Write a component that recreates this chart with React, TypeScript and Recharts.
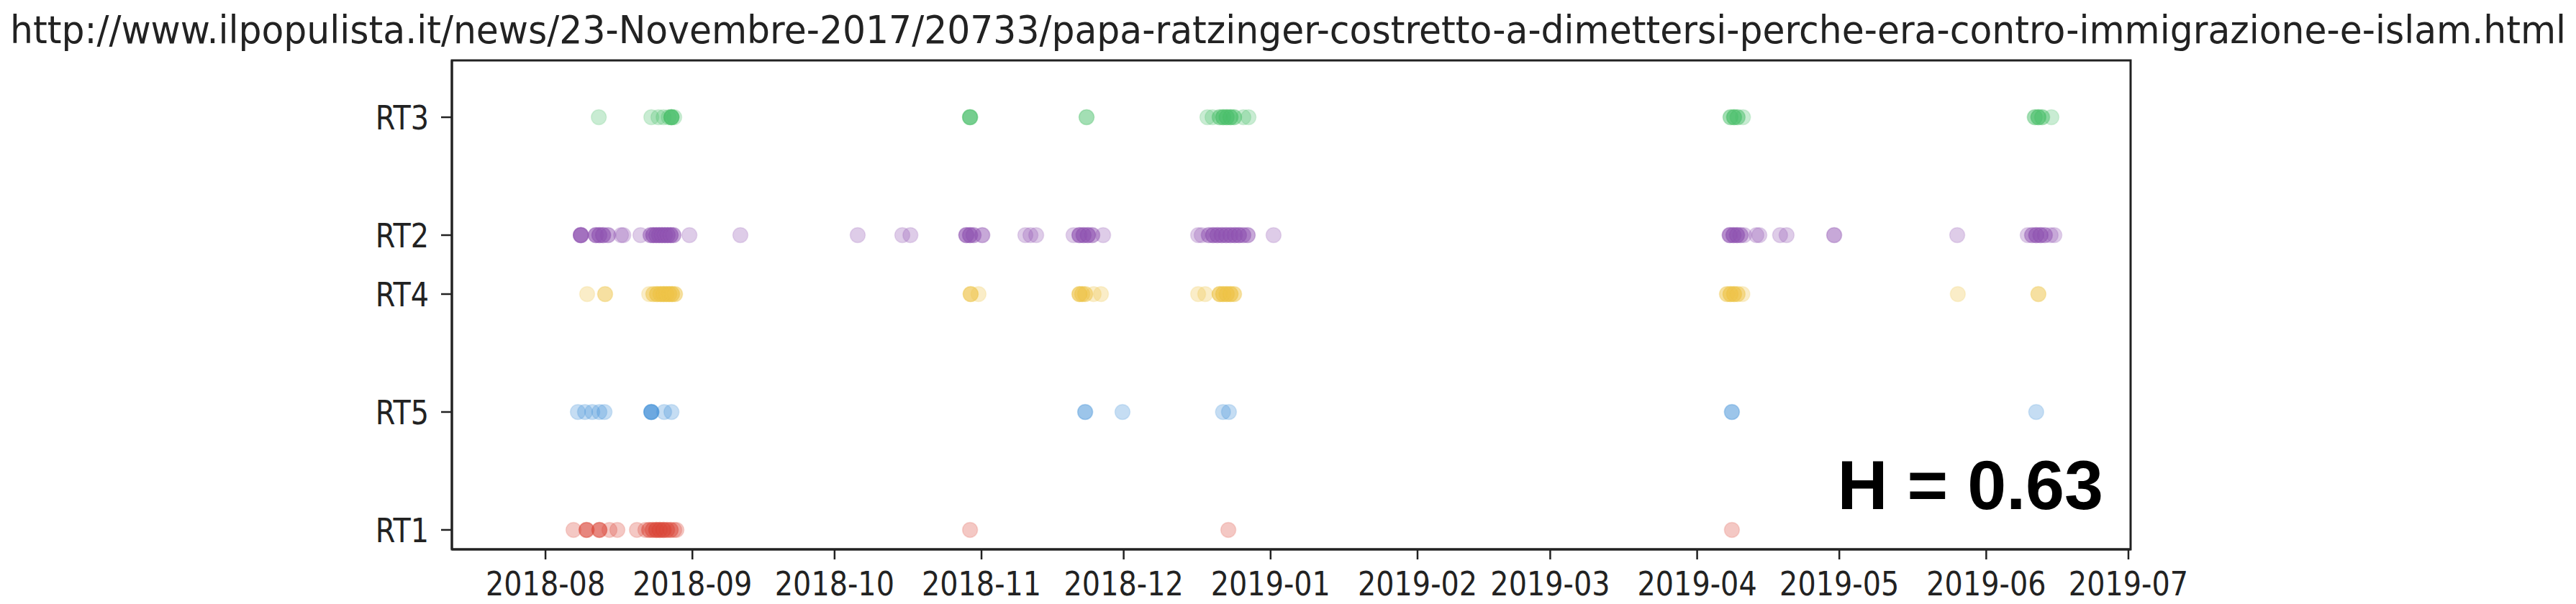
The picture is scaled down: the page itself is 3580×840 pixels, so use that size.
import React from "react";
import { ScatterChart, Scatter, XAxis, YAxis, ReferenceArea } from "recharts";

const title =
  "http://www.ilpopulista.it/news/23-Novembre-2017/20733/papa-ratzinger-costretto-a-dimettersi-perche-era-contro-immigrazione-e-islam.html";
const scoreLabel = "H = 0.63";

// rows, bottom to top
const rowNames = ["RT1", "RT5", "RT4", "RT2", "RT3"];
const rowLevels = [0, 1, 2, 2.5, 3.5];
const rowColors = ["#dc4a3a", "#3f8fd6", "#eec548", "#9255b2", "#4cc06c"];

const monthTicks = [
  "2018-08-01T00", "2018-09-01T00", "2018-10-01T00", "2018-11-01T00",
  "2018-12-01T00", "2019-01-01T00", "2019-02-01T00", "2019-03-01T00",
  "2019-04-01T00", "2019-05-01T00", "2019-06-01T00", "2019-07-01T00",
];
const xStart = "2018-07-12T06";
const xEnd = "2019-07-01T11";
const yRange = [-0.165, 3.982];

// [time, number of retweets seen at that time]
const rt1: [string, number][] = [
  ["2018-08-06T22", 1], ["2018-08-09T16", 3], ["2018-08-12T09", 3], ["2018-08-14T12", 1],
  ["2018-08-16T04", 1], ["2018-08-20T07", 1], ["2018-08-22T02", 1], ["2018-08-22T21", 2],
  ["2018-08-23T15", 2], ["2018-08-24T09", 3], ["2018-08-25T03", 3], ["2018-08-25T22", 3],
  ["2018-08-26T16", 2], ["2018-08-27T10", 2], ["2018-08-28T04", 1], ["2018-08-28T15", 1],
  ["2018-10-29T14", 1], ["2018-12-23T02", 1], ["2019-04-08T08", 1],
];

const rt5: [string, number][] = [
  ["2018-08-07T20", 1], ["2018-08-09T08", 1], ["2018-08-10T21", 1], ["2018-08-12T09", 1],
  ["2018-08-13T11", 1], ["2018-08-23T08", 4], ["2018-08-26T01", 1], ["2018-08-27T14", 1],
  ["2018-11-22T21", 2], ["2018-11-30T18", 1], ["2018-12-21T23", 1], ["2018-12-23T05", 1],
  ["2019-04-08T08", 2], ["2019-06-11T13", 1],
];

const rt4: [string, number][] = [
  ["2018-08-09T19", 1], ["2018-08-13T14", 2], ["2018-08-22T21", 1], ["2018-08-23T18", 2],
  ["2018-08-24T13", 3], ["2018-08-25T07", 3], ["2018-08-25T22", 3], ["2018-08-26T12", 3],
  ["2018-08-27T03", 3], ["2018-08-27T17", 3], ["2018-08-28T08", 2], ["2018-10-29T17", 3],
  ["2018-10-31T09", 1], ["2018-11-21T16", 3], ["2018-11-22T06", 2], ["2018-11-22T21", 2],
  ["2018-11-24T16", 1], ["2018-11-26T05", 1], ["2018-12-16T17", 1], ["2018-12-18T05", 1],
  ["2018-12-21T06", 3], ["2018-12-22T00", 3], ["2018-12-22T18", 3], ["2018-12-23T13", 3],
  ["2018-12-24T07", 2], ["2019-04-07T07", 2], ["2019-04-08T01", 3], ["2019-04-08T19", 3],
  ["2019-04-09T13", 2], ["2019-04-10T13", 1], ["2019-05-26T00", 1], ["2019-06-12T00", 2],
];

const rt2: [string, number][] = [
  ["2018-08-08T11", 5], ["2018-08-11T15", 3], ["2018-08-12T09", 3], ["2018-08-13T04", 3],
  ["2018-08-14T05", 2], ["2018-08-16T23", 1], ["2018-08-17T10", 1], ["2018-08-21T01", 1],
  ["2018-08-23T04", 2], ["2018-08-23T18", 3], ["2018-08-24T09", 3], ["2018-08-25T00", 3],
  ["2018-08-25T14", 3], ["2018-08-26T05", 3], ["2018-08-26T19", 3], ["2018-08-27T10", 3],
  ["2018-08-28T00", 2], ["2018-08-31T09", 1], ["2018-09-11T03", 1], ["2018-10-05T21", 1],
  ["2018-10-15T07", 1], ["2018-10-17T00", 1], ["2018-10-28T19", 3], ["2018-10-29T14", 3],
  ["2018-10-30T08", 2], ["2018-11-01T04", 2], ["2018-11-10T06", 1], ["2018-11-11T08", 1],
  ["2018-11-12T13", 1], ["2018-11-20T10", 1], ["2018-11-21T16", 3], ["2018-11-22T13", 3],
  ["2018-11-23T11", 3], ["2018-11-24T09", 2], ["2018-11-26T16", 1], ["2018-12-16T17", 1],
  ["2018-12-17T11", 1], ["2018-12-18T23", 2], ["2018-12-19T21", 3], ["2018-12-20T19", 3],
  ["2018-12-21T17", 3], ["2018-12-22T15", 3], ["2018-12-23T13", 3], ["2018-12-24T11", 3],
  ["2018-12-25T08", 3], ["2018-12-26T06", 2], ["2018-12-27T04", 2], ["2019-01-01T15", 1],
  ["2019-04-07T21", 3], ["2019-04-08T16", 3], ["2019-04-09T10", 3], ["2019-04-10T04", 2],
  ["2019-04-10T22", 1], ["2019-04-13T12", 1], ["2019-04-14T03", 1], ["2019-04-18T12", 1],
  ["2019-04-19T21", 1], ["2019-04-29T22", 2], ["2019-05-25T21", 1], ["2019-06-09T18", 1],
  ["2019-06-10T16", 2], ["2019-06-11T13", 3], ["2019-06-12T11", 3], ["2019-06-13T09", 2],
  ["2019-06-14T14", 1], ["2019-06-15T09", 1],
];

const rt3: [string, number][] = [
  ["2018-08-12T06", 1], ["2018-08-23T08", 1], ["2018-08-24T20", 1], ["2018-08-25T22", 1],
  ["2018-08-27T00", 1], ["2018-08-27T14", 5], ["2018-08-28T04", 1], ["2018-10-29T14", 4],
  ["2018-11-23T04", 2], ["2018-12-18T16", 1], ["2018-12-19T18", 1], ["2018-12-21T06", 2],
  ["2018-12-22T00", 3], ["2018-12-22T18", 3], ["2018-12-23T13", 3], ["2018-12-24T07", 2],
  ["2018-12-26T06", 1], ["2018-12-27T08", 1], ["2019-04-08T01", 2], ["2019-04-08T19", 3],
  ["2019-04-09T13", 2], ["2019-04-10T16", 1], ["2019-06-11T06", 2], ["2019-06-12T00", 3],
  ["2019-06-12T19", 2], ["2019-06-14T18", 1],
];

const rowSeries = [rt1, rt5, rt4, rt2, rt3];

const ts = (s: string) => Date.parse(s + ":00:00Z");

const toPoints = (rows: [string, number][], level: number) =>
  rows.flatMap(([time, count]) =>
    Array.from({ length: count }, () => ({ t: ts(time), y: level }))
  );

const FONT = "'DejaVu Sans', sans-serif";
const SQUEEZE = 0.865;
const AXIS = "#222";

const YTick = (props: any) => {
  const { x, y, payload } = props;
  const idx = rowLevels.indexOf(payload.value);
  return (
    <g transform={`translate(${x},${y}) scale(${SQUEEZE},1)`}>
      <text x={0} y={17} textAnchor="end" fontFamily={FONT} fontSize={46} fill="#222">
        {rowNames[idx]}
      </text>
    </g>
  );
};

const XTick = (props: any) => {
  const { x, y, payload } = props;
  const label = new Date(payload.value).toISOString().slice(0, 7);
  return (
    <g transform={`translate(${x},${y}) scale(${SQUEEZE},1)`}>
      <text x={0} y={40} textAnchor="middle" fontFamily={FONT} fontSize={46} fill="#222">
        {label}
      </text>
    </g>
  );
};

// soft matplotlib-like marker: translucent face plus a faint edge
const dot = (color: string) => (p: any) => (
  <circle
    cx={p.cx}
    cy={p.cy}
    r={10.5}
    fill={color}
    fillOpacity={0.3}
    stroke={color}
    strokeOpacity={0.18}
    strokeWidth={1.5}
  />
);

export default function App() {
  const x0 = ts(xStart);
  const x1 = ts(xEnd);
  return (
    <div style={{ position: "absolute", left: 0, top: 0, width: 3580, height: 840, background: "#fff" }}>
      <ScatterChart
        width={3580}
        height={840}
        margin={{ top: 84, right: 619, bottom: 0, left: 0 }}
      >
        <XAxis
          type="number"
          dataKey="t"
          domain={[x0, x1]}
          allowDataOverflow
          ticks={monthTicks.map(ts)}
          tick={<XTick />}
          height={76}
          tickSize={14}
          tickMargin={10}
          axisLine={{ stroke: AXIS, strokeWidth: 3 }}
          tickLine={{ stroke: AXIS, strokeWidth: 2.5 }}
        />
        <YAxis
          type="number"
          dataKey="y"
          domain={yRange}
          allowDataOverflow
          ticks={rowLevels}
          tick={<YTick />}
          width={628}
          tickSize={15}
          tickMargin={17}
          axisLine={{ stroke: AXIS, strokeWidth: 3 }}
          tickLine={{ stroke: AXIS, strokeWidth: 2.5 }}
        />
        <ReferenceArea
          x1={x0}
          x2={x1}
          y1={yRange[0]}
          y2={yRange[1]}
          fill="none"
          stroke={AXIS}
          strokeWidth={3}
          ifOverflow="visible"
        />
        {rowSeries.map((rows, i) => (
          <Scatter
            key={rowNames[i]}
            name={rowNames[i]}
            data={toPoints(rows, rowLevels[i])}
            shape={dot(rowColors[i])}
            isAnimationActive={false}
          />
        ))}
      </ScatterChart>
      <svg
        width={3580}
        height={840}
        style={{ position: "absolute", left: 0, top: 0, pointerEvents: "none" }}
      >
        <text
          x={14}
          y={60}
          fontFamily={FONT}
          fontSize={54}
          fill="#222"
          textLength={3552}
          lengthAdjust="spacingAndGlyphs"
        >
          {title}
        </text>
        <text
          x={2923}
          y={708}
          textAnchor="end"
          fontFamily="'Liberation Sans', Arial, sans-serif"
          fontWeight="bold"
          fontSize={97}
          fill="#000"
        >
          {scoreLabel}
        </text>
      </svg>
    </div>
  );
}
